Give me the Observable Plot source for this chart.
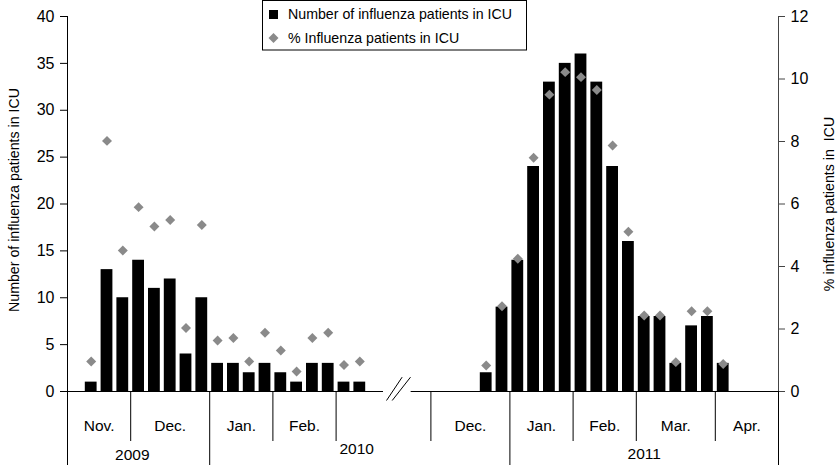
<!DOCTYPE html>
<html><head><meta charset="utf-8">
<script src="https://cdn.jsdelivr.net/npm/d3@7"></script>
<script src="https://cdn.jsdelivr.net/npm/@observablehq/plot@0.6"></script>
<style>body{margin:0;background:#fff;font-family:"Liberation Sans",Arial,sans-serif}</style>
</head><body><div id="chart"></div>
<script>
// Season 1 (Nov 2009 - Feb 2010), weekly
const season1Counts = [1,13,10,14,11,12,4,10,3,3,2,3,2,1,3,3,1,1];
const season1Pct = [0.96,8.02,4.51,5.9,5.28,5.49,2.03,5.33,1.63,1.71,0.96,1.88,1.31,0.64,1.71,1.88,0.85,0.96];
// Season 2 (Dec 2010 - Apr 2011), weekly
const season2Counts = [2,9,14,24,33,35,36,33,24,16,8,8,3,7,8,3];
const season2Pct = [0.83,2.73,4.25,7.48,9.5,10.22,10.06,9.65,7.87,5.11,2.43,2.43,0.94,2.57,2.57,0.88];
const season1Start = 1.5;   // week slot of first bar
const season2Start = 26.5;
const monthBounds = [4,13,17,23,32,36,41];
const yearBounds = [0,9,28,45];
const monthLabels = ["Nov.","Dec.","Jan.","Feb.","Dec.","Jan.","Feb.","Mar.","Apr."];
const monthMids = [2,6.5,11,15,25.5,30,34,38.5,43];
const yearLabels = ["2009","2010","2011"];
const yearPos = [4.1,18.3,36.5];
const yearRowOffset = [68,62,67];
const axisSegments = [{x1:0,x2:20},{x1:21.75,x2:45}];
const breakSlashes = [{x1:20.19,y1:-0.96,x2:21.18,y2:1.53},{x1:20.55,y1:-0.96,x2:21.71,y2:1.53}];
const pctMax = 12, countMax = 40;

const weeks = [
  ...season1Counts.map((n,i)=>({pos:season1Start+i, n, pct:season1Pct[i]})),
  ...season2Counts.map((n,i)=>({pos:season2Start+i, n, pct:season2Pct[i]}))
];
const months = monthLabels.map((label,i)=>({label, pos:monthMids[i]}));
const years = yearLabels.map((label,i)=>({label, pos:yearPos[i], off:yearRowOffset[i]}));
const font = '"Liberation Sans",Arial,sans-serif';

const svg = Plot.plot({
  width: 839, height: 469,
  marginLeft: 67, marginRight: 61, marginTop: 16, marginBottom: 78,
  style: {fontFamily: font, fontSize: "15px", color: "#000", background: "#fff"},
  x: {domain: [0,45], axis: null},
  y: {domain: [0,countMax], axis: null},
  marks: [
    Plot.rectY(weeks, {x1: d=>d.pos-0.5, x2: d=>d.pos+0.5, y: "n", fill: "#000", insetLeft: 2, insetRight: 2}),
    Plot.ruleY(axisSegments, {y: 0, x1: "x1", x2: "x2", stroke: "#000"}),
    Plot.ruleX([0], {stroke: "#000"}),
    Plot.ruleX([45], {stroke: "#444"}),
    Plot.axisY({anchor: "left", ticks: d3.range(0,41,5), tickSize: 7, tickPadding: 6, label: null, fontSize: 16}),
    Plot.axisY({anchor: "right", ticks: d3.range(0,pctMax+1,2).map(v=>v*countMax/pctMax), tickFormat: v=>String(Math.round(v*pctMax/countMax)), tickSize: 6, tickPadding: 6, label: null, fontSize: 16, stroke: "#444"}),
    Plot.axisX({ticks: monthBounds, tickSize: 50, tickFormat: ()=>"", label: null}),
    Plot.axisX({ticks: yearBounds, tickSize: 74, tickFormat: ()=>"", label: null}),
    Plot.dot(weeks, {x: "pos", y: d=>d.pct*countMax/pctMax, symbol: "diamond2", r: 4.5, fill: "#8a8a8a"}),
    Plot.text(months, {x: "pos", text: "label", frameAnchor: "bottom", dy: 39, fontSize: 15.5}),
    Plot.text(years.filter(d=>d.off===68), {x: "pos", text: "label", frameAnchor: "bottom", dy: 68, fontSize: 15.5}),
    Plot.text(years.filter(d=>d.off===62), {x: "pos", text: "label", frameAnchor: "bottom", dy: 62, fontSize: 15.5}),
    Plot.text(years.filter(d=>d.off===67), {x: "pos", text: "label", frameAnchor: "bottom", dy: 67, fontSize: 15.5}),
    Plot.link(breakSlashes, {x1: "x1", y1: "y1", x2: "x2", y2: "y2", stroke: "#000", strokeWidth: 1}),
    Plot.text(["Number of influenza patients in ICU"], {frameAnchor: "left", textAnchor: "middle", dx: -53, dy: -4, rotate: -90, fontSize: 14.2}),
    Plot.text(["% influenza patients in  ICU"], {frameAnchor: "right", textAnchor: "middle", dx: 51, dy: 0, rotate: -90, fontSize: 14.2})
  ]
});

// legend box
const g = d3.select(svg).append("g").attr("font-family", font).attr("font-size", 14.2).attr("text-anchor", "start");
g.append("rect").attr("x", 262.5).attr("y", 0.5).attr("width", 264).attr("height", 49.5).attr("fill", "#fff").attr("stroke", "#000");
g.append("rect").attr("x", 269).attr("y", 10).attr("width", 9).attr("height", 9).attr("fill", "#000");
g.append("path").attr("d", "M273.5,33 L278.5,38 L273.5,43 L268.5,38 Z").attr("fill", "#8a8a8a");
g.append("text").attr("x", 288).attr("y", 14.5).attr("dy", "0.35em").attr("text-anchor", "start").text("Number of influenza patients in ICU");
g.append("text").attr("x", 288).attr("y", 38).attr("dy", "0.35em").attr("text-anchor", "start").text("% Influenza patients in ICU");

document.getElementById("chart").append(svg);
</script></body></html>
